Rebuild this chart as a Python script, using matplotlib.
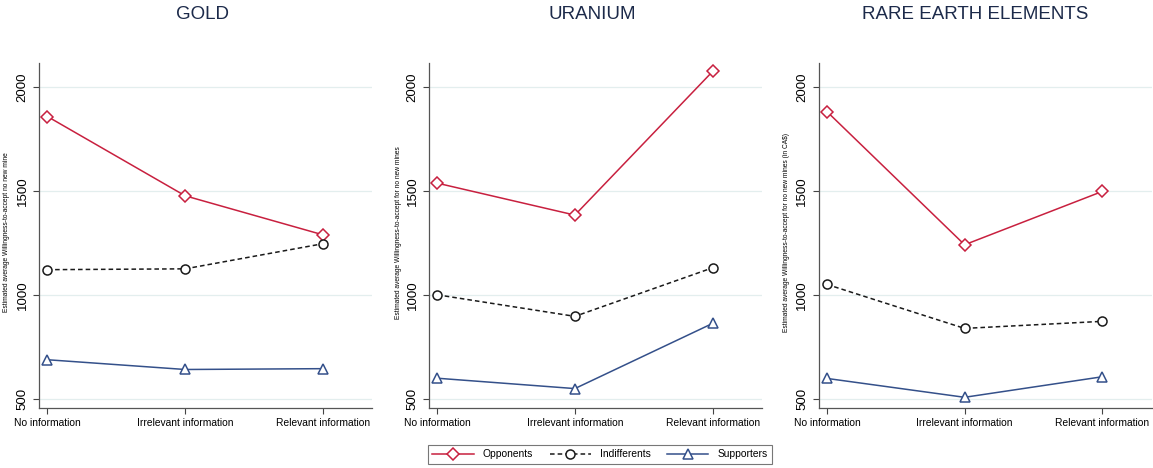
import matplotlib.pyplot as plt
import numpy as np

plt.rcParams['font.family'] = ['Liberation Sans', 'DejaVu Sans']

conditions = ["No information", "Irrelevant information", "Relevant information"]
groups = ["Opponents", "Indifferents", "Supporters"]

titles = ["GOLD", "URANIUM", "RARE EARTH ELEMENTS"]
ylabels = [
    "Estimated average Willingness-to-accept no new mine",
    "Estimated average Willingness-to-accept for no new mines",
    "Estimated average Willingness-to-accept for no new mines (in CA$)",
]

gold_opponents = [1860, 1478, 1290]
gold_indifferents = [1122, 1126, 1247]
gold_supporters = [688, 641, 645]

uranium_opponents = [1539, 1385, 2077]
uranium_indifferents = [1001, 897, 1131]
uranium_supporters = [599, 549, 863]

ree_opponents = [1884, 1242, 1499]
ree_indifferents = [1051, 839, 873]
ree_supporters = [598, 507, 606]

panels = [
    (gold_opponents, gold_indifferents, gold_supporters),
    (uranium_opponents, uranium_indifferents, uranium_supporters),
    (ree_opponents, ree_indifferents, ree_supporters),
]

styles = [
    dict(color="#c8203f", ls="-", marker="D", ms=6.5),
    dict(color="#1a1a1a", ls=(0, (3, 2)), marker="o", ms=6.5),
    dict(color="#34508a", ls="-", marker="^", ms=6.5),
]

fig = plt.figure(figsize=(11.53, 4.68), dpi=100)
lefts = [0.034, 0.372, 0.710]
label_x = [-0.087, -0.081, -0.087]
x = np.arange(len(conditions))

for i, (series, title) in enumerate(zip(panels, titles)):
    ax = fig.add_axes([lefts[i], 0.128, 0.289, 0.737])
    for vals, name, st in zip(series, groups, styles):
        ax.plot(x, vals, color=st["color"], ls=st["ls"], lw=1.1,
                marker=st["marker"], ms=st["ms"], mfc="white",
                mec=st["color"], mew=1.1, label=name)
    ax.set_xlim(-0.06, 2.36)
    ax.set_ylim(455, 2117)
    ax.set_yticks([500, 1000, 1500, 2000])
    ax.set_xticks(x)
    ax.set_xticklabels(conditions, fontsize=7.4)
    ax.tick_params(axis="y", labelrotation=90, labelsize=9.5, length=4,
                   color="#444444", width=0.8)
    ax.tick_params(axis="x", length=4, color="#444444", width=0.8, pad=3)
    for lab in ax.get_yticklabels():
        lab.set_va("center")
    ax.grid(axis="y", color="#e3eeee", lw=0.9)
    ax.set_axisbelow(True)
    for s in ["top", "right"]:
        ax.spines[s].set_visible(False)
    for s in ["left", "bottom"]:
        ax.spines[s].set_color("#555555")
        ax.spines[s].set_linewidth(0.9)
    ax.set_ylabel(ylabels[i], fontsize=4.8)
    ax.yaxis.set_label_coords(label_x[i], 0.51)
    fig.text(lefts[i] + 0.289 * [0.49, 0.49, 0.47][i], 0.968, title,
             ha="center", va="center", fontsize=13.5, color="#1c2a4a")

handles, labels = ax.get_legend_handles_labels()
leg = fig.legend(handles, labels, loc="center", ncol=3,
                 bbox_to_anchor=(0.5205, 0.029), fontsize=7.4,
                 fancybox=False, edgecolor="#777777", framealpha=1,
                 handlelength=4.0, handletextpad=0.9, columnspacing=1.6,
                 borderpad=0.45)
leg.get_frame().set_linewidth(0.8)

fig.savefig("out.png", dpi=100)
